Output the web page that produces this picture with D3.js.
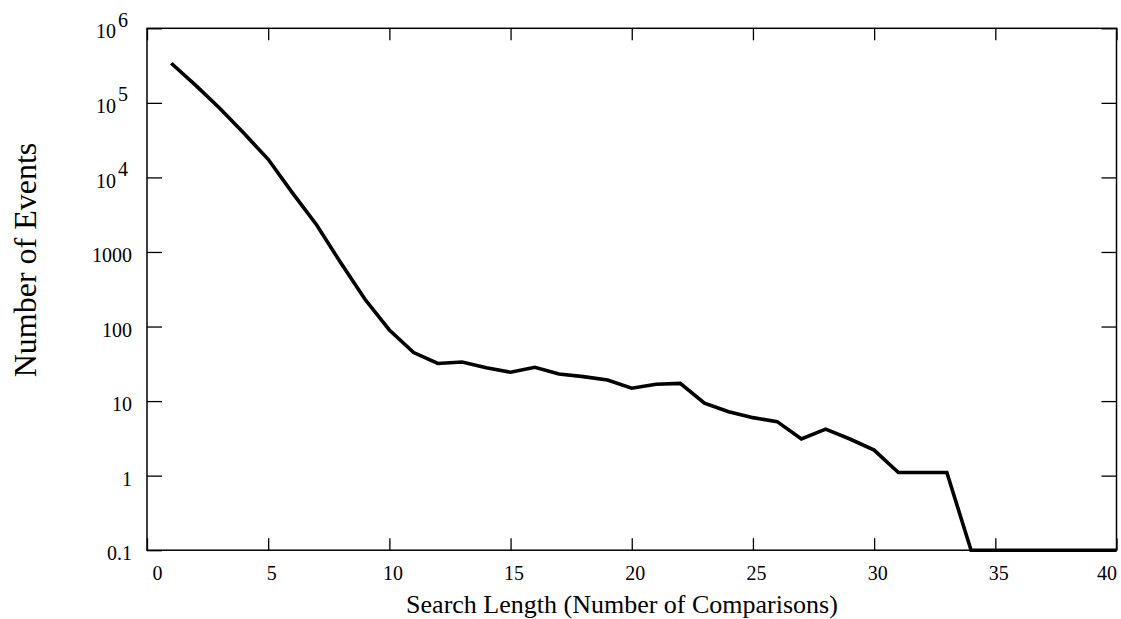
<!DOCTYPE html>
<html>
<head>
<meta charset="utf-8">
<script src="https://cdn.jsdelivr.net/npm/d3@7"></script>
<style>
body{margin:0;background:#fff;}
svg text{font-family:"Liberation Serif","Times New Roman",serif;fill:#000;}
</style>
</head>
<body>
<svg id="chart" width="1121" height="619"></svg>
<script>
// search length (comparisons) vs number of events
var search_len=[1,2,3,4,5,6,7,8,9,10,11,12,13,14,15,16,17,18,19,20,
                21,22,23,24,25,26,27,28,29,30,31,32,33,34,35,36,37,38,39,40];
var events=[340000,173000,84500,39000,17500,6200,2300,710,230,90,
            44.7,32,33.5,28,24.4,28.4,23.1,21.3,19.2,14.9,
            16.8,17.3,9.35,7.2,6.0,5.3,3.1,4.2,3.1,2.2,
            1.1,1.1,1.1,0.1,0.1,0.1,0.1,0.1,0.1,0.1];
var x_ticks=[0,5,10,15,20,25,30,35,40];
var y_ticks=[0.1,1,10,100,1000,1e4,1e5,1e6];
var y_labels=["0.1","1","10","100","1000","10|4","10|5","10|6"];  //"|" = 10 with exponent

var left=147,right=1116.5,top_=28.3,bottom=550.2;
var svg=d3.select("#chart");

var xScale=d3.scaleLinear().domain([0,40]).range([left,right]);
var yScale=d3.scaleLog().domain([0.1,1e6]).range([bottom,top_]);

// box
svg.append("rect")
   .attr("x",left).attr("y",top_)
   .attr("width",right-left).attr("height",bottom-top_)
   .attr("fill","none").attr("stroke","#000").attr("stroke-width",1.5);

// left axis, ticks pointing inward
var gy=svg.append("g")
   .attr("transform","translate("+left+",0)")
   .call(d3.axisLeft(yScale).tickValues(y_ticks).tickSize(-15).tickPadding(15).tickFormat(""));
gy.select(".domain").remove();
gy.selectAll("line").attr("stroke-width",1.3);
gy.selectAll(".tick text").each(function(d,i){
	var t=d3.select(this).attr("font-size",20).attr("dy","0.48em").text(null);
	var lab=y_labels[i];
	if(lab.indexOf("|")>=0){
		var parts=lab.split("|");
		t.attr("dx",-4);
		t.append("tspan").text(parts[0]);
		t.append("tspan").attr("dx",2).attr("dy",-11.5).text(parts[1]);
	}else{
		t.text(lab);
	}
});
// right side ticks (mirror)
var gy2=svg.append("g")
   .attr("transform","translate("+right+",0)")
   .call(d3.axisRight(yScale).tickValues(y_ticks).tickSize(-15).tickFormat(""));
gy2.select(".domain").remove();
gy2.selectAll("line").attr("stroke-width",1.3);

// bottom axis
var gx=svg.append("g")
   .attr("transform","translate(0,"+bottom+")")
   .call(d3.axisBottom(xScale).tickValues(x_ticks).tickSize(-12).tickPadding(16));
gx.select(".domain").remove();
gx.selectAll("line").attr("stroke-width",1.3);
gx.selectAll(".tick text")
  .attr("font-size",20)
  .attr("dx",function(d){return d==0?10:(d==40?-10:3);});
// top ticks
var gx2=svg.append("g")
   .attr("transform","translate(0,"+top_+")")
   .call(d3.axisTop(xScale).tickValues(x_ticks).tickSize(-12).tickFormat(""));
gx2.select(".domain").remove();
gx2.selectAll("line").attr("stroke-width",1.3);

// the data line
var line=d3.line()
	.x(function(d,i){return xScale(search_len[i]);})
	.y(function(d){return yScale(d);});
svg.append("path")
   .attr("d",line(events))
   .attr("fill","none")
   .attr("stroke","#000")
   .attr("stroke-width",3.6)
   .attr("stroke-linejoin","miter");

// axis titles
svg.append("text")
   .attr("x",622).attr("y",613)
   .attr("text-anchor","middle")
   .attr("font-size",26)
   .text("Search Length (Number of Comparisons)");
svg.append("text")
   .attr("transform","translate(36,260) rotate(-90)")
   .attr("text-anchor","middle")
   .attr("font-size",32)
   .text("Number of Events");
</script>
</body>
</html>
